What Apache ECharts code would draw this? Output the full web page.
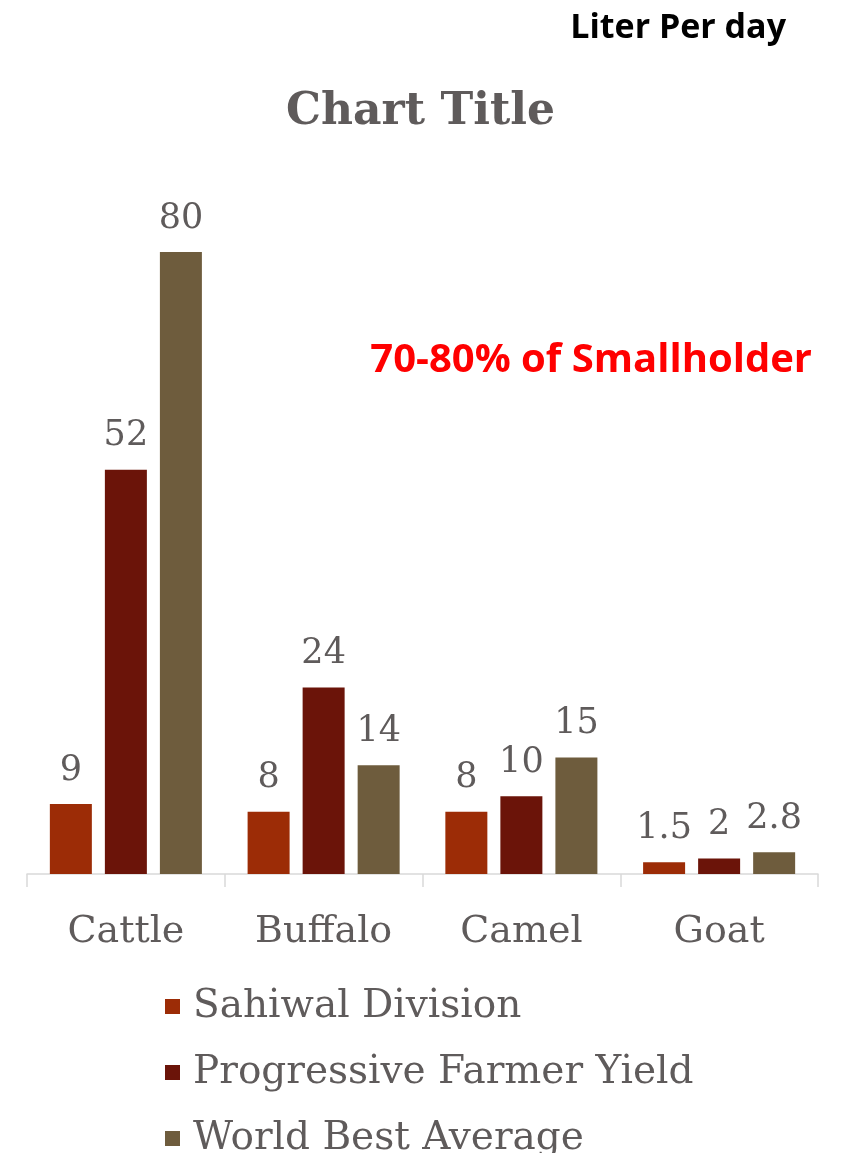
<!DOCTYPE html>
<html>
<head>
<meta charset="utf-8">
<script src="https://cdn.jsdelivr.net/npm/echarts@6/dist/echarts.min.js"></script>
<style>
  html, body { margin: 0; padding: 0; background: #ffffff; }
  #chart { width: 841px; height: 1153px; }
</style>
</head>
<body>
<div id="chart"></div>
<script>
// Milk yield per animal, litres per day
const categories = ['Cattle', 'Buffalo', 'Camel', 'Goat'];
const sahiwalDivision = [9, 8, 8, 1.5];
const progressiveFarmer = [52, 24, 10, 2];
const worldBest = [80, 14, 15, 2.8];
const seriesNames = ['Sahiwal Division', 'Progressive Farmer Yield', 'World Best Average'];
const seriesColors = ['#9c2c06', '#6b1409', '#6e5c3d'];

const slab = '"DejaVu Serif", serif';
const textGray = '#5f5b5b';

const chart = echarts.init(document.getElementById('chart'), null, { renderer: 'canvas' });

function makeSeries(name, data, color) {
  return {
    name: name,
    type: 'bar',
    data: data,
    barWidth: 42,
    barGap: '31%',
    itemStyle: { color: color },
    label: {
      show: true,
      position: 'top',
      distance: 16,
      color: textGray,
      fontFamily: slab,
      fontSize: 35
    }
  };
}

chart.setOption({
  animation: false,
  backgroundColor: '#ffffff',
  title: [
    {
      text: 'Liter Per day',
      right: 50,
      top: 6,
      textStyle: { fontFamily: '"Open Sans", sans-serif', fontWeight: 'bold', fontSize: 34, color: '#000000' }
    },
    {
      text: 'Chart Title',
      left: 'center',
      top: 86,
      textStyle: { fontFamily: slab, fontWeight: 'bold', fontSize: 44, color: textGray }
    },
    {
      text: '70-80% of Smallholder',
      right: 24,
      top: 336,
      textStyle: { fontFamily: '"Open Sans", sans-serif', fontWeight: 'bold', fontSize: 40, color: '#ff0000' }
    }
  ],
  legend: {
    orient: 'vertical',
    left: 160,
    top: 982,
    height: 200,
    itemWidth: 15,
    itemHeight: 15,
    itemGap: 27,
    icon: 'rect',
    textStyle: { fontFamily: slab, fontSize: 39, color: textGray, padding: [0, 0, 0, 8] },
    data: seriesNames
  },
  grid: { left: 27, right: 23, top: 252, bottom: 279, containLabel: false },
  xAxis: {
    type: 'category',
    data: categories,
    axisLine: { lineStyle: { color: '#d9d9d9', width: 1.5 } },
    axisTick: { show: true, length: 13, lineStyle: { color: '#d9d9d9', width: 1.5 } },
    axisLabel: { fontFamily: slab, fontSize: 38, color: textGray, margin: 39 }
  },
  yAxis: {
    type: 'value',
    min: 0,
    max: 80,
    show: false,
    splitLine: { show: false }
  },
  series: [
    makeSeries(seriesNames[0], sahiwalDivision, seriesColors[0]),
    makeSeries(seriesNames[1], progressiveFarmer, seriesColors[1]),
    makeSeries(seriesNames[2], worldBest, seriesColors[2])
  ]
});
</script>
</body>
</html>
